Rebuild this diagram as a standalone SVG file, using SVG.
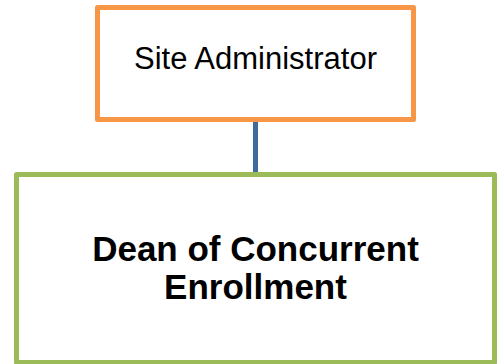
<svg xmlns="http://www.w3.org/2000/svg" width="498" height="364" viewBox="0 0 498 364">
<style>
.box{fill:#FFFFFF;stroke-width:5;stroke-linejoin:round}
.t{font-family:"Liberation Sans",Arial,sans-serif;fill:#000000;text-anchor:middle}
</style>
<rect width="498" height="364" fill="#FFFFFF"/>
<g id="connectors">
<line x1="255.5" y1="121" x2="255.5" y2="173" stroke="#40699C" stroke-width="5"/>
</g>
<g id="site-administrator">
<rect class="box" x="97.5" y="7.5" width="316" height="112" stroke="#F79646"/>
<text class="t" x="255.5" y="69" font-size="31">Site Administrator</text>
</g>
<g id="dean">
<rect class="box" x="16.5" y="174.5" width="478" height="188" stroke="#9BBB59"/>
<text class="t" x="255.5" y="261" font-size="35" font-weight="bold">Dean of Concurrent</text>
<text class="t" x="255.5" y="299" font-size="35" font-weight="bold">Enrollment</text>
</g>
</svg>
